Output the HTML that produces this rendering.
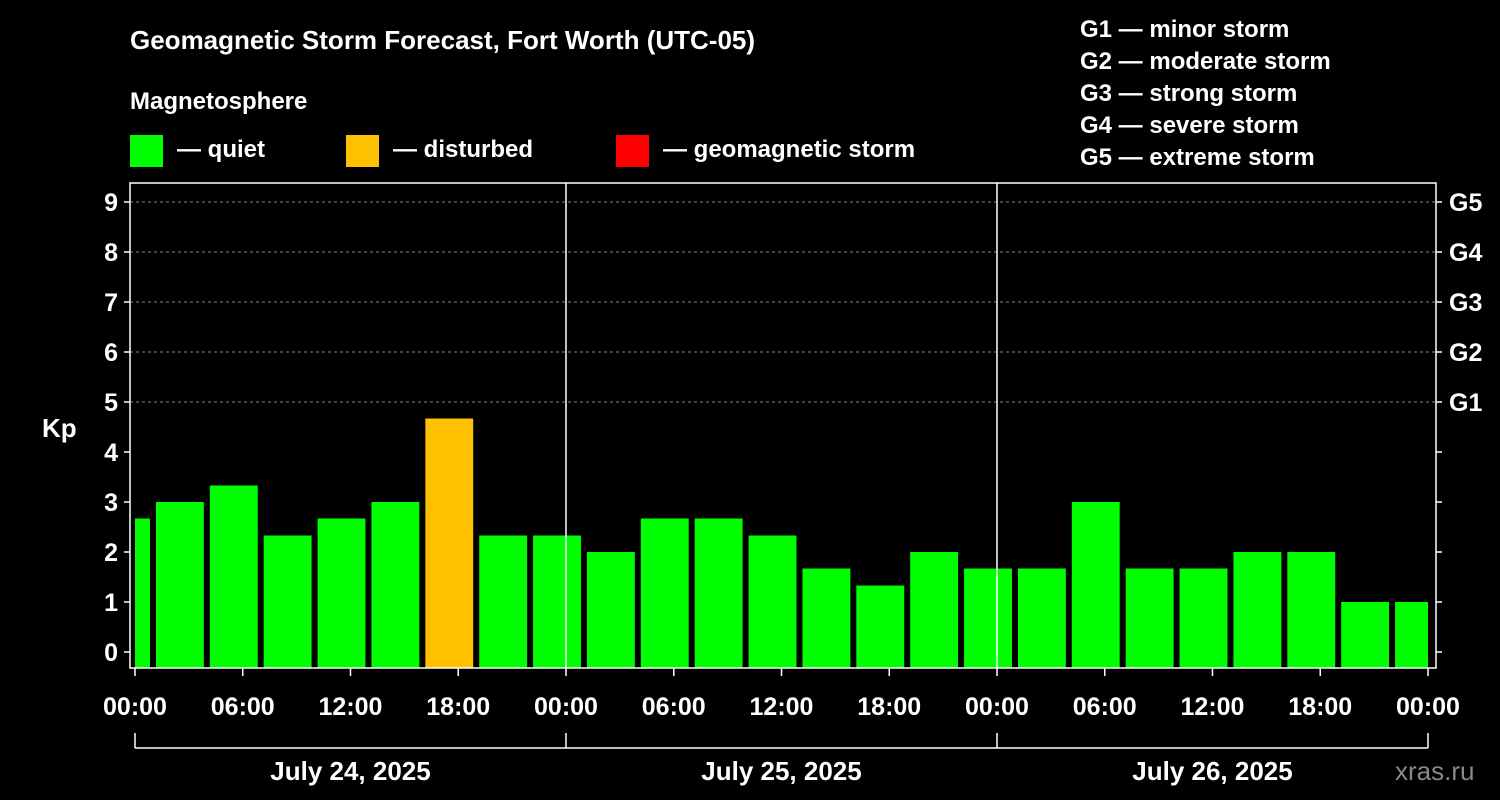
<!DOCTYPE html>
<html><head><meta charset="utf-8"><style>
body{margin:0;background:#000;}
svg{display:block;font-family:"Liberation Sans",Arial,sans-serif;font-weight:bold;}
</style></head><body>
<svg id="c" width="1500" height="800" viewBox="0 0 1500 800">
<rect width="1500" height="800" fill="#000"/>
<text x="130" y="49" fill="#fff" font-size="26">Geomagnetic Storm Forecast, Fort Worth (UTC-05)</text>
<text x="130" y="109" fill="#fff" font-size="24">Magnetosphere</text>
<g><rect x="130" y="135" width="33" height="32" fill="#00ff00"/><text x="177" y="157" fill="#fff" font-size="24">— quiet</text></g>
<g><rect x="346" y="135" width="33" height="32" fill="#ffc000"/><text x="393" y="157" fill="#fff" font-size="24">— disturbed</text></g>
<g><rect x="616" y="135" width="33" height="32" fill="#ff0000"/><text x="663" y="157" fill="#fff" font-size="24">— geomagnetic storm</text></g>
<g fill="#fff" font-size="24">
<text x="1080" y="37">G1 — minor storm</text><text x="1080" y="69">G2 — moderate storm</text><text x="1080" y="101">G3 — strong storm</text><text x="1080" y="133">G4 — severe storm</text><text x="1080" y="165">G5 — extreme storm</text>
</g>
<text x="42" y="437" fill="#fff" font-size="26">Kp</text>
<text x="1395" y="780" fill="#888" font-size="26" font-weight="normal">xras.ru</text>
<g id="plot"></g>
</svg>
<script>
const kpValues=[2.67,3,3.33,2.33,2.67,3,4.67,2.33,2.33,2,2.67,2.67,2.33,1.67,1.33,2,1.67,1.67,3,1.67,1.67,2,2,1,1];
const yTicks=[0,1,2,3,4,5,6,7,8,9];
const gLabels=["G1","G2","G3","G4","G5"];
const xTickLabels=["00:00","06:00","12:00","18:00","00:00","06:00","12:00","18:00","00:00","06:00","12:00","18:00","00:00"];
const dayLabels=["July 24, 2025","July 25, 2025","July 26, 2025"];
const NS="http://www.w3.org/2000/svg";
const L=130,R=1436,T=183,B=668,X0=135,X1=1428;
const hx=h=>X0+h*(X1-X0)/72;
const y=k=>652-50*k;
const g=document.getElementById('plot');
function el(t,a,txt){const e=document.createElementNS(NS,t);for(const k in a)e.setAttribute(k,a[k]);if(txt!=null)e.textContent=txt;g.appendChild(e);return e;}
// grid
yTicks.forEach(k=>{if(k>=5){const l=el('line',{x1:L,x2:R,y1:y(k),y2:y(k),stroke:'#888','stroke-dasharray':'3,3'});}});
// bars
kpValues.forEach((v,i)=>{const s=-2+3*i;let x1=Math.max(hx(s)+3,X0),x2=Math.min(hx(s+3)-3,X1);
const r=el('rect',{x:x1,y:y(v),width:x2-x1,height:B-y(v),fill:v>=5?'#ff0000':v>=4?'#ffc000':'#00ff00'});
});
// frame
const f=el('rect',{x:L,y:T,width:R-L,height:B-T,fill:'none',stroke:'#fff','stroke-width':1.5});

[1,2].forEach(d=>{const l=el('line',{x1:hx(24*d),x2:hx(24*d),y1:T,y2:B,stroke:'#fff','stroke-width':1.5});});
yTicks.forEach(k=>{
el('line',{x1:L-6,x2:L,y1:y(k),y2:y(k),stroke:'#fff','stroke-width':1.5});
el('line',{x1:R,x2:R+6,y1:y(k),y2:y(k),stroke:'#fff','stroke-width':1.5});
const t=el('text',{x:L-12,y:y(k)+9,fill:'#fff','font-size':25,'text-anchor':'end'},k);

if(k>=5){const gt=el('text',{x:R+13,y:y(k)+9,fill:'#fff','font-size':25},gLabels[k-5]);}
});
xTickLabels.forEach((lab,i)=>{const x=hx(6*i);
el('line',{x1:x,x2:x,y1:B,y2:B+8,stroke:'#fff','stroke-width':1.5});
const t=el('text',{x:x,y:715,fill:'#fff','font-size':25,'text-anchor':'middle'},lab);
});
el('line',{x1:X0,x2:X1,y1:748,y2:748,stroke:'#fff','stroke-width':1.5});
[0,1,2,3].forEach(d=>el('line',{x1:hx(24*d),x2:hx(24*d),y1:733,y2:748,stroke:'#fff','stroke-width':1.5}));
dayLabels.forEach((lab,d)=>{const t=el('text',{x:hx(24*d+12),y:780,fill:'#fff','font-size':26,'text-anchor':'middle'},lab);
});
</script>
</body></html>
